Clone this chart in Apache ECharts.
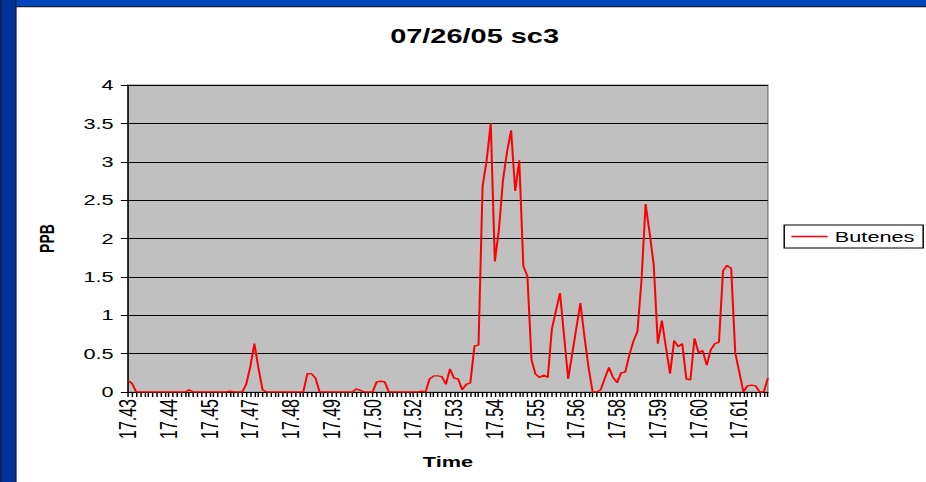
<!DOCTYPE html>
<html>
<head>
<meta charset="utf-8">
<script src="https://cdn.jsdelivr.net/npm/echarts@6/dist/echarts.min.js"></script>
<style>
html, body { margin: 0; padding: 0; background: #ffffff; overflow: hidden; }
#chart { position: absolute; left: 0; top: 0; width: 640px; height: 482px; transform: scaleX(1.446875); transform-origin: 0 0; }
</style>
</head>
<body>
<div id="chart"></div>
<script>
// Time tick labels shown every 10 samples
const tickLabels = ['17.43','17.44','17.45','17.47','17.48','17.49','17.50','17.52','17.53','17.54','17.55','17.56','17.58','17.59','17.60','17.61'];
const labelStep = 10;

// Butenes (PPB), one value per sample
const butenes = [
  0.15, 0.11, 0, 0, 0, 0, 0, 0, 0, 0,
  0, 0, 0, 0, 0, 0.03, 0, 0, 0, 0,
  0, 0, 0, 0, 0, 0.01, 0, 0, 0, 0.1,
  0.33, 0.63, 0.31, 0.03, 0, 0, 0, 0, 0, 0,
  0, 0, 0, 0, 0.24, 0.24, 0.18, 0, 0, 0,
  0, 0, 0, 0, 0, 0, 0.04, 0.02, 0, 0,
  0, 0.13, 0.14, 0.13, 0, 0, 0, 0, 0, 0,
  0, 0, 0.01, 0, 0.17, 0.21, 0.21, 0.2, 0.1, 0.3,
  0.18, 0.17, 0.03, 0.1, 0.12, 0.6, 0.61, 2.68, 3.02, 3.5,
  1.7, 2.11, 2.76, 3.13, 3.41, 2.62, 3.02, 1.64, 1.51, 0.42,
  0.23, 0.19, 0.22, 0.19, 0.82, 1.06, 1.29, 0.73, 0.17, 0.5,
  0.83, 1.16, 0.72, 0.32, 0, 0, 0.03, 0.18, 0.32, 0.19,
  0.12, 0.25, 0.26, 0.48, 0.66, 0.79, 1.46, 2.45, 2.07, 1.65,
  0.63, 0.93, 0.58, 0.24, 0.67, 0.59, 0.63, 0.17, 0.16, 0.7,
  0.51, 0.54, 0.35, 0.55, 0.63, 0.65, 1.58, 1.65, 1.61, 0.51,
  0.26, 0, 0.08, 0.09, 0.08, 0, 0, 0.18
];

// sample indices as categories
const categories = butenes.map((_, i) => String(i));

const FONT = '"Liberation Sans", Arial, sans-serif';

const chart = echarts.init(document.getElementById('chart'), null, { renderer: 'svg' });
chart.setOption({
  animation: false,
  backgroundColor: '#ffffff',
  title: {
    text: '07/26/05 sc3',
    left: 323,
    textAlign: 'center',
    top: 21,
    textStyle: { fontFamily: FONT, fontSize: 20, fontWeight: 'bold', color: '#000' }
  },
  legend: {
    orient: 'vertical',
    left: 542,
    top: 225,
    backgroundColor: '#ffffff',
    borderColor: '#000000',
    borderWidth: 1,
    padding: [4, 6, 4, 5],
    itemWidth: 25,
    itemHeight: 1.5,
    icon: 'rect',
    textStyle: { fontFamily: FONT, fontSize: 15, color: '#000' },
    data: ['Butenes']
  },
  grid: {
    left: 88.5,
    top: 85,
    width: 442.2,
    height: 307,
    show: true,
    backgroundColor: '#c0c0c0',
    borderColor: '#808080',
    borderWidth: 1
  },
  xAxis: {
    type: 'category',
    data: categories,
    boundaryGap: false,
    name: 'Time',
    nameLocation: 'middle',
    nameGap: 62,
    nameTextStyle: { fontFamily: FONT, fontSize: 15, fontWeight: 'bold', color: '#000' },
    axisLine: { show: true, lineStyle: { color: '#000', width: 1 } },
    axisTick: { show: true, interval: 0, length: 5, lineStyle: { color: '#000', width: 1 } },
    axisLabel: {
      interval: labelStep - 1,
      rotate: 90,
      margin: 7,
      fontFamily: FONT,
      fontSize: 16,
      color: '#000',
      formatter: function (v, i) { return tickLabels[i / labelStep] || ''; }
    },
    splitLine: { show: false }
  },
  yAxis: {
    type: 'value',
    min: 0,
    max: 4,
    interval: 0.5,
    name: 'PPB',
    nameLocation: 'middle',
    nameRotate: 90,
    nameGap: 49,
    nameTextStyle: { fontFamily: FONT, fontSize: 14, fontWeight: 'bold', color: '#000' },
    axisLine: { show: true, lineStyle: { color: '#000', width: 1 } },
    axisTick: { show: true, length: 5, lineStyle: { color: '#000' } },
    axisLabel: { margin: 10, fontFamily: FONT, fontSize: 15, color: '#000' },
    splitLine: { show: true, lineStyle: { color: '#000', width: 1 } }
  },
  series: [{
    name: 'Butenes',
    type: 'line',
    data: butenes,
    showSymbol: false,
    symbol: 'none',
    color: '#ff0000',
    lineStyle: { color: '#ff0000', width: 1.4 },
    z: 5
  }],
  graphic: [
    { type: 'rect', left: 0, top: 0, shape: { width: 640, height: 6 }, style: { fill: '#0047bb' }, silent: true },
    { type: 'rect', left: 0, top: 6, shape: { width: 640, height: 1.3 }, style: { fill: '#1a1f3a' }, silent: true },
    { type: 'rect', left: 0, top: 0, shape: { width: 11.5, height: 482 }, style: { fill: '#14224d' }, silent: true },
    { type: 'rect', left: 1.2, top: 0, shape: { width: 9.2, height: 482 }, style: { fill: '#003399' }, silent: true }
  ]
});
</script>
</body>
</html>
